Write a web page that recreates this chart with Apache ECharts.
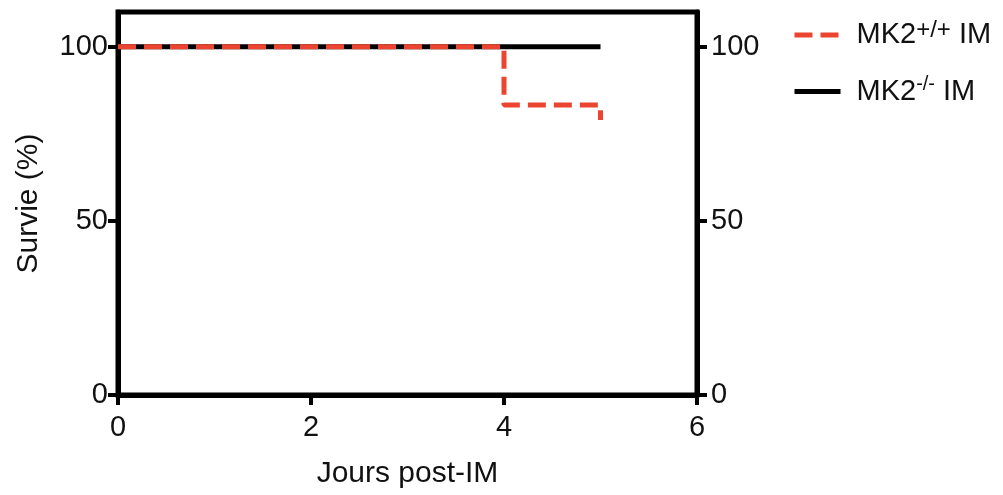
<!DOCTYPE html>
<html>
<head>
<meta charset="utf-8">
<script src="https://cdn.jsdelivr.net/npm/echarts@6/dist/echarts.min.js"></script>
<style>html,body{margin:0;padding:0;background:#fff;}#c{width:1003px;height:495px;}</style>
</head>
<body>
<div id="c"></div>
<script>
// Data
const xTicks = [0, 2, 4, 6];
const yTicks = [0, 50, 100];
const wtName = 'MK2+/+ IM';
const koName = 'MK2-/- IM';
const wtData = [[0, 100], [4, 83.3], [5, 79]];
const koData = [[0, 100], [5, 100]];

const FONT = 'Liberation Sans, Arial, Helvetica, sans-serif';
const RED = '#EB4531';
const chart = echarts.init(document.getElementById('c'));
const legendRich = {
  b: { fontSize: 29, fontFamily: FONT, color: '#111', lineHeight: 34 },
  s1: { fontSize: 24, fontFamily: FONT, color: '#111', verticalAlign: 'top', lineHeight: 22 },
  s2: { fontSize: 20, fontFamily: FONT, color: '#111', verticalAlign: 'top', lineHeight: 20 }
};
const yAxisCommon = {
  type: 'value', min: 0, max: 110,
  axisLine: { show: true, lineStyle: { color: '#000', width: 5 } },
  axisTick: { show: true, length: 10, lineStyle: { color: '#000', width: 4 }, customValues: yTicks },
  axisLabel: { fontSize: 29, fontFamily: FONT, color: '#111', customValues: yTicks },
  splitLine: { show: false }
};
chart.setOption({
  animation: false,
  grid: { left: 118, right: 306, top: 12, bottom: 100, show: true, borderColor: '#000', borderWidth: 5 },
  legend: {
    orient: 'vertical', left: 787, top: 13, itemWidth: 46, itemHeight: 14, itemGap: 25,
    data: [wtName, koName],
    itemStyle: { opacity: 0 },
    lineStyle: { width: 5, type: 'inherit' },
    formatter: function (n) {
      if (n === wtName) return '{b|MK2}{s1|+/+}{b| IM}';
      return '{b|MK2}{s2|-/-}{b| IM}';
    },
    textStyle: { rich: legendRich, padding: [0, 0, 0, 11] }
  },
  xAxis: {
    type: 'value', min: 0, max: 6, interval: 2,
    name: 'Jours post-IM', nameLocation: 'middle', nameGap: 64,
    nameTextStyle: { fontSize: 30, fontFamily: FONT, color: '#111' },
    axisLine: { show: true, onZero: false, lineStyle: { color: '#000', width: 5 } },
    axisTick: { show: true, length: 10, lineStyle: { color: '#000', width: 4 } },
    axisLabel: { fontSize: 29, fontFamily: FONT, color: '#111', margin: 18 },
    splitLine: { show: false }
  },
  yAxis: [
    Object.assign({}, yAxisCommon, {
      position: 'left', name: 'Survie (%)', nameLocation: 'middle', nameGap: 74,
      nameTextStyle: { fontSize: 30, fontFamily: FONT, color: '#111' },
      axisLabel: Object.assign({}, yAxisCommon.axisLabel, { margin: 10 })
    }),
    Object.assign({}, yAxisCommon, {
      position: 'right',
      axisLabel: Object.assign({}, yAxisCommon.axisLabel, { margin: 14 })
    })
  ],
  series: [
    {
      name: koName, type: 'line', data: koData, symbol: 'none',
      lineStyle: { color: '#000', width: 5 }, itemStyle: { color: '#000' }, z: 2
    },
    {
      name: wtName, type: 'line', data: wtData, step: 'end', symbol: 'none',
      lineStyle: { color: RED, width: 5, type: [18, 8] }, itemStyle: { color: RED }, z: 3
    }
  ]
});
</script>
</body>
</html>
